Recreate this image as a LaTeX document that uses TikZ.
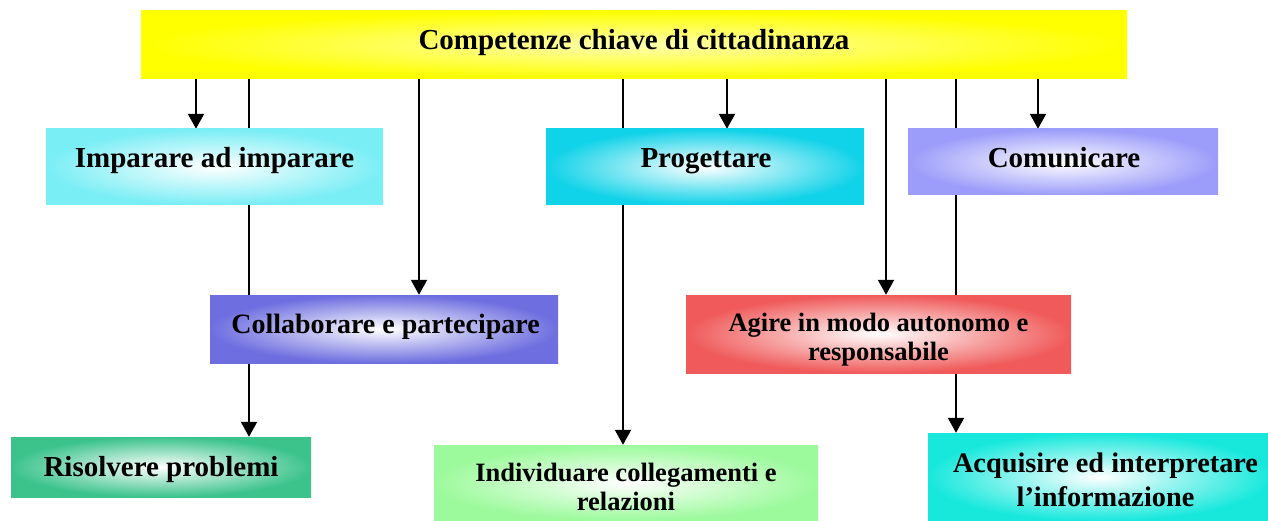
\documentclass[tikz,border=0pt]{standalone}
\usepackage{fontspec}
\setmainfont{Liberation Serif}
\usetikzlibrary{arrows.meta,backgrounds}
\definecolor{cTop}{RGB}{255,255,0}
\definecolor{cTopIn}{RGB}{255,255,175}
\definecolor{cImp}{RGB}{122,238,245}
\definecolor{cProg}{RGB}{16,210,232}
\definecolor{cCom}{RGB}{156,156,250}
\definecolor{cColl}{RGB}{110,110,224}
\definecolor{cAg}{RGB}{240,90,90}
\definecolor{cRis}{RGB}{60,195,140}
\definecolor{cInd}{RGB}{156,250,156}
\definecolor{cAcq}{RGB}{24,232,220}
\tikzset{
  box/.style={rectangle, inner sep=0pt, shading=radial, inner color=white},
  lbl/.style={font=\fontsize{29}{31}\selectfont\bfseries, inner sep=0pt, anchor=base},
  lbltwo/.style={font=\fontsize{26.5}{29}\selectfont\bfseries, inner sep=0pt, align=center},
  conn/.style={line width=2pt, black},
  arr/.style={conn, -{Triangle[length=15pt,width=16pt]}}
}
\begin{document}
\begin{tikzpicture}[x=1pt,y=-1pt]
\useasboundingbox (0,0) rectangle (1268,521);
% boxes
\node[box, inner color=cTopIn, outer color=cTop, minimum width=986pt, minimum height=68pt] (top) at (634,45) {};
\node[box, outer color=cImp, minimum width=337pt, minimum height=76pt] (imp) at (214.5,167) {};
\node[box, outer color=cProg, minimum width=318pt, minimum height=76pt] (prog) at (705,167) {};
\node[box, outer color=cCom, minimum width=310pt, minimum height=66pt] (com) at (1063,162) {};
\node[box, outer color=cColl, minimum width=348pt, minimum height=68pt] (coll) at (384,329) {};
\node[box, outer color=cAg, minimum width=385pt, minimum height=78pt] (ag) at (878.5,334) {};
\node[box, outer color=cRis, minimum width=300pt, minimum height=60pt] (ris) at (161,467) {};
\node[box, outer color=cInd, minimum width=384pt, minimum height=76pt] (ind) at (626,483) {};
\node[box, outer color=cAcq, minimum width=342pt, minimum height=88pt] (acq) at (1099,477) {};
% labels
\node[lbl] (ttop) at (634,50) {Competenze chiave di cittadinanza};
\node[lbl] (timp) at (214.5,168) {Imparare ad imparare};
\node[lbl] (tprog) at (706,168) {Progettare};
\node[lbl] (tcom) at (1064,168) {Comunicare};
\node[lbl, font=\fontsize{28}{30}\selectfont\bfseries] (tcoll) at (385.5,333) {Collaborare e partecipare};
\node[lbl] (tris) at (161,476) {Risolvere problemi};
\node[lbltwo] (tag) at (878.5,340) {Agire in modo autonomo e\\responsabile};
\node[lbltwo] (tind) at (626,487) {Individuare collegamenti e\\relazioni};
\node[lbltwo, font=\fontsize{28.3}{34}\selectfont\bfseries] (tacq) at (1105.5,480) {Acquisire ed interpretare\\l’informazione};
% connector x positions
\coordinate (x1) at (196,0);
\coordinate (x2) at (249,0);
\coordinate (x3) at (419,0);
\coordinate (x4) at (623,0);
\coordinate (x5) at (727,0);
\coordinate (x6) at (886,0);
\coordinate (x7) at (956,0);
\coordinate (x8) at (1038,0);
\begin{scope}[on background layer]
\draw[arr] (top.south -| x1) -- (imp.north -| x1);
\draw[arr] (top.south -| x2) -- (ris.north -| x2);
\draw[arr] (top.south -| x3) -- (coll.north -| x3);
\draw[arr] (top.south -| x4) -- (ind.north -| x4);
\draw[arr] (top.south -| x5) -- (prog.north -| x5);
\draw[arr] (top.south -| x6) -- (ag.north -| x6);
\draw[arr] (top.south -| x7) -- (acq.north -| x7);
\draw[arr] (top.south -| x8) -- (com.north -| x8);
\end{scope}
\end{tikzpicture}
\end{document}
